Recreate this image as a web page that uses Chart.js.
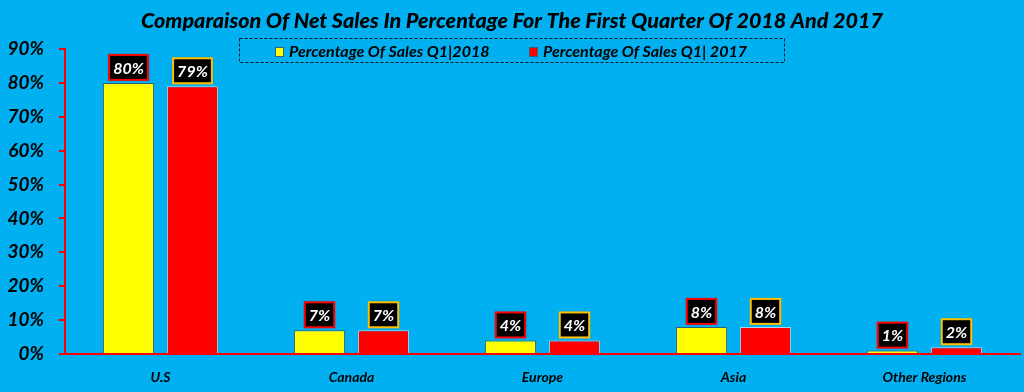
<!DOCTYPE html>
<html>
<head>
<meta charset="utf-8">
<script src="https://cdn.jsdelivr.net/npm/chart.js@4/dist/chart.umd.min.js"></script>
<style>
    html, body { margin: 0; padding: 0; background: #00B0F0; }
    #wrap { width: 1024px; height: 392px; position: relative; }
</style>
</head>
<body>
<div id="wrap"><canvas id="grafico"></canvas></div>
<script>
const categorias = ["U.S", "Canada", "Europe", "Asia", "Other Regions"];
const vendas2018 = [80, 7, 4, 8, 1];
const vendas2017 = [79, 7, 4, 8, 2];
const rotulosSeries = ["Percentage Of Sales Q1|2018", "Percentage Of Sales Q1| 2017"];
const titulo = "Comparaison Of Net Sales In Percentage For The First Quarter Of 2018 And 2017";

const FONTE = "Lato, 'Open Sans', sans-serif";

// titulo e legenda desenhados por cima (a legenda invade a area do grafico)
const pluginCabecalho = {
    id: "cabecalho",
    afterDraw(chart) {
        const ctx = chart.ctx;
        ctx.save();
        ctx.fillStyle = "#000";
        ctx.font = "italic 900 21.5px " + FONTE;
        ctx.textAlign = "center";
        ctx.textBaseline = "middle";
        ctx.fillText(titulo, 512, 21);

        // caixa tracejada da legenda
        ctx.strokeStyle = "#1a1a1a";
        ctx.lineWidth = 1;
        ctx.setLineDash([3, 2]);
        ctx.strokeRect(239.5, 38.5, 545, 24);
        ctx.setLineDash([]);

        ctx.font = "italic bold 16px " + FONTE;
        ctx.textAlign = "left";
        const posicoes = [275, 529];
        chart.data.datasets.forEach((ds, i) => {
            const x = posicoes[i];
            ctx.fillStyle = ds.backgroundColor;
            ctx.fillRect(x, 47, 8, 9);
            ctx.strokeStyle = "#3b5f7a";
            ctx.strokeRect(x + 0.5, 47.5, 8, 9);
            ctx.fillStyle = "#000";
            ctx.fillText(ds.label, x + 14, 51.5);
        });
        ctx.restore();
    }
};

// caixas pretas com o valor em cima de cada barra
const pluginRotulos = {
    id: "rotulos",
    afterDatasetsDraw(chart) {
        const ctx = chart.ctx;
        ctx.save();
        ctx.font = "italic bold 16px " + FONTE;
        ctx.textAlign = "center";
        ctx.textBaseline = "middle";
        chart.data.datasets.forEach((ds, i) => {
            const meta = chart.getDatasetMeta(i);
            meta.data.forEach((barra, j) => {
                const texto = ds.data[j] + "%";
                const w = ctx.measureText(texto).width + 8;
                const h = 25;
                const x = barra.x - w / 2;
                const y = barra.y - 3 - h;
                ctx.shadowColor = "rgba(0,0,0,0.35)";
                ctx.shadowBlur = 3;
                ctx.fillStyle = "#000";
                ctx.fillRect(x, y, w, h);
                ctx.shadowBlur = 0;
                ctx.lineWidth = 2;
                ctx.strokeStyle = ds.corBorda;
                ctx.strokeRect(x, y, w, h);
                ctx.fillStyle = "#fff";
                ctx.fillText(texto, barra.x, y + h / 2 + 1);
            });
        });
        ctx.restore();
    }
};

new Chart(document.getElementById("grafico"), {
    type: "bar",
    data: {
        labels: categorias,
        datasets: [
            {
                label: rotulosSeries[0],
                data: vendas2018,
                backgroundColor: "#FFFF00",
                borderColor: "#2f5f7a",
                borderWidth: 1,
                corBorda: "#FF0000"
            },
            {
                label: rotulosSeries[1],
                data: vendas2017,
                backgroundColor: "#FF0000",
                borderColor: "#a9d8f0",
                borderWidth: 1,
                corBorda: "#FFC000"
            }
        ]
    },
    options: {
        responsive: true,
        maintainAspectRatio: false,
        animation: false,
        layout: {
            padding: { top: 49, left: 5, right: 4, bottom: 0 }
        },
        datasets: {
            bar: {
                categoryPercentage: 0.67,
                barPercentage: 0.8
            }
        },
        plugins: {
            legend: { display: false },
            title: { display: false },
            tooltip: { enabled: false }
        },
        scales: {
            x: {
                grid: { display: false, drawTicks: false },
                border: { color: "#FF0000", width: 2 },
                ticks: {
                    color: "#000",
                    padding: 15,
                    font: { family: FONTE, size: 14, style: "italic", weight: "bold" }
                },
                afterFit(escala) { escala.height = 38; }
            },
            y: {
                min: 0,
                max: 90,
                grid: {
                    drawOnChartArea: false,
                    drawTicks: true,
                    tickLength: 6,
                    color: "#FF0000",
                    lineWidth: 2
                },
                border: { color: "#FF0000", width: 2 },
                ticks: {
                    stepSize: 10,
                    color: "#000",
                    padding: 15,
                    font: { family: FONTE, size: 19, style: "italic", weight: "bold" },
                    callback: valor => valor + "%"
                },
                afterFit(escala) { escala.width = 60; }
            }
        }
    },
    plugins: [pluginCabecalho, pluginRotulos]
});
</script>
</body>
</html>
